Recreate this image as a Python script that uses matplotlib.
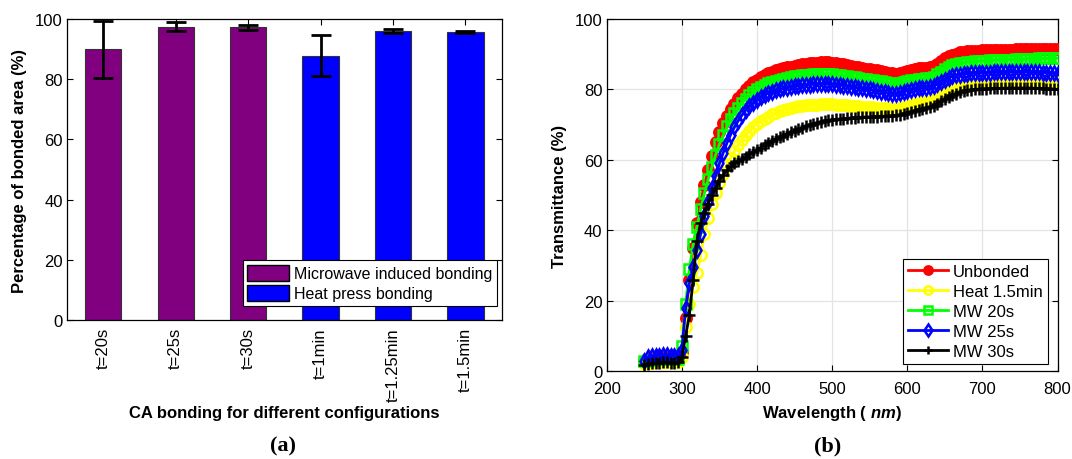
import numpy as np
import matplotlib
matplotlib.use("Agg")
import matplotlib.pyplot as plt
from matplotlib.patches import Patch

plt.rcParams['font.family'] = ['Liberation Sans', 'DejaVu Sans']
plt.rcParams['mathtext.fontset'] = 'custom'
plt.rcParams['mathtext.it'] = 'Liberation Sans:italic:bold'
plt.rcParams['mathtext.rm'] = 'Liberation Sans:bold'

# ---------------- Panel (a) data ----------------
categories = ['t=20s', 't=25s', 't=30s', 't=1min', 't=1.25min', 't=1.5min']
bonded_pct = [90.0, 97.5, 97.2, 87.8, 96.0, 95.7]
bonded_err = [9.5, 1.5, 0.8, 6.8, 0.8, 0.3]
groups = ['mw', 'mw', 'mw', 'hp', 'hp', 'hp']
group_labels = {'mw': 'Microwave induced bonding', 'hp': 'Heat press bonding'}
group_colors = {'mw': '#800080', 'hp': '#0000FF'}

# ---------------- Panel (b) data ----------------
wavelength = list(range(250, 805, 5))

unbonded = [3.0, 3.5, 3.6, 3.8, 3.8, 3.9, 3.9, 3.8, 3.7, 3.6,
            5.5, 15, 26, 35, 42, 48, 53, 57, 61, 65,
            68, 70.5, 72.5, 74.5, 76, 77.5, 78.8, 80, 81, 82,
            82.8, 83.5, 84.1, 84.6, 85.0, 85.4, 85.7, 86.0, 86.3, 86.5,
            86.7, 86.9, 87.1, 87.2, 87.4, 87.5, 87.6, 87.7, 87.7, 87.7,
            87.6, 87.5, 87.3, 87.1, 86.9, 86.7, 86.5, 86.3, 86.1, 85.9,
            85.8, 85.6, 85.4, 85.2, 85.0, 84.8, 84.6, 84.5, 84.7, 85.0,
            85.3, 85.6, 85.8, 86.0, 86.1, 86.2, 86.3, 86.6, 87.3, 88.1,
            88.8, 89.4, 89.9, 90.2, 90.5, 90.7, 90.8, 90.9, 91.0, 91.0,
            91.1, 91.1, 91.2, 91.2, 91.2, 91.3, 91.3, 91.3, 91.3, 91.4,
            91.4, 91.4, 91.4, 91.4, 91.5, 91.5, 91.5, 91.5, 91.5, 91.5,
            91.5]

heat_15min = [2.0, 2.3, 2.4, 2.5, 2.6, 2.6, 2.6, 2.5, 2.5, 2.6,
              4.0, 12.5, 19, 24, 28, 33, 39, 43.5, 47.5, 50.5,
              53.5, 56, 58.5, 60.6, 62.5, 64.2, 65.7, 67, 68.2, 69.3,
              70.2, 71.0, 71.7, 72.3, 72.9, 73.4, 73.8, 74.2, 74.5, 74.8,
              75.0, 75.2, 75.4, 75.5, 75.6, 75.7, 75.7, 75.8, 75.8, 75.8,
              75.8, 75.7, 75.7, 75.6, 75.5, 75.4, 75.3, 75.2, 75.1, 75.0,
              74.9, 74.9, 74.8, 74.7, 74.6, 74.6, 74.5, 74.5, 74.7, 75.0,
              75.3, 75.6, 75.9, 76.1, 76.3, 76.5, 76.7, 77.1, 77.8, 78.5,
              79.1, 79.6, 80.1, 80.5, 80.8, 81.0, 81.2, 81.3, 81.4, 81.5,
              81.6, 81.6, 81.7, 81.7, 81.8, 81.8, 81.8, 81.9, 81.9, 81.9,
              82.0, 82.0, 82.0, 82.0, 82.0, 82.0, 82.0, 82.0, 82.0, 82.0,
              82.0]

mw_20s = [3.0, 3.2, 3.3, 3.4, 3.4, 3.5, 3.5, 3.4, 3.4, 3.5,
          7, 19, 29, 36, 41, 46, 50.5, 54.5, 58, 61.5,
          64.5, 67, 69.5, 71.5, 73.2, 74.8, 76.2, 77.4, 78.4, 79.3,
          80.0, 80.7, 81.2, 81.7, 82.1, 82.5, 82.8, 83.1, 83.3, 83.5,
          83.7, 83.9, 84.0, 84.1, 84.2, 84.3, 84.4, 84.4, 84.4, 84.4,
          84.3, 84.2, 84.1, 83.9, 83.7, 83.6, 83.4, 83.2, 83.1, 82.9,
          82.8, 82.6, 82.4, 82.3, 82.1, 81.9, 81.7, 81.5, 81.7, 82.0,
          82.3, 82.6, 82.8, 83.0, 83.1, 83.2, 83.3, 83.6, 84.3, 85.0,
          85.7, 86.3, 86.8, 87.1, 87.4, 87.6, 87.8, 87.9, 88.0, 88.1,
          88.2, 88.2, 88.3, 88.3, 88.4, 88.4, 88.5, 88.5, 88.5, 88.6,
          88.6, 88.6, 88.7, 88.7, 88.7, 88.8, 88.8, 88.8, 88.8, 88.9,
          88.9]

mw_25s = [3.0, 4.0, 4.2, 4.3, 4.4, 4.5, 4.5, 4.4, 4.3, 4.2,
          6.0, 18, 25, 29.5, 34.5, 39, 44, 48, 52, 55.5,
          59, 62, 64.8, 67.2, 69.3, 71.1, 72.7, 74.1, 75.2, 76.2,
          77.1, 77.8, 78.4, 78.9, 79.3, 79.7, 80.0, 80.3, 80.5, 80.7,
          80.9, 81.0, 81.2, 81.3, 81.4, 81.5, 81.5, 81.6, 81.6, 81.6,
          81.5, 81.4, 81.3, 81.1, 81.0, 80.8, 80.6, 80.4, 80.3, 80.1,
          80.0, 79.8, 79.6, 79.4, 79.2, 79.0, 78.8, 78.6, 78.9, 79.3,
          79.6, 79.9, 80.1, 80.3, 80.4, 80.5, 80.6, 80.9, 81.5, 82.2,
          82.8, 83.3, 83.7, 84.0, 84.2, 84.4, 84.5, 84.6, 84.7, 84.7,
          84.8, 84.8, 84.8, 84.9, 84.9, 84.9, 84.9, 85.0, 85.0, 85.0,
          85.0, 85.0, 85.0, 84.9, 84.9, 84.9, 84.8, 84.8, 84.7, 84.6,
          84.5]

mw_30s = [1.8, 2.0, 2.2, 2.3, 2.4, 2.5, 2.5, 2.4, 2.4, 2.5,
          4.0, 10, 16, 26, 37, 42, 45, 47.5, 50, 52,
          54, 55.7, 57, 58.2, 59.0, 59.7, 60.3, 60.9, 61.6, 62.2,
          62.8, 63.5, 64.2, 64.8, 65.4, 65.9, 66.4, 66.9, 67.4, 67.9,
          68.3, 68.7, 69.1, 69.5, 69.9, 70.2, 70.5, 70.8, 71.0, 71.2,
          71.4, 71.5, 71.6, 71.7, 71.8, 71.9, 72.0, 72.1, 72.1, 72.2,
          72.2, 72.3, 72.3, 72.4, 72.4, 72.5, 72.5, 72.6, 72.8, 73.1,
          73.4, 73.7, 74.0, 74.3, 74.5, 74.8, 75.0, 75.4, 76.0, 76.7,
          77.3, 77.9, 78.4, 78.8, 79.2, 79.5, 79.7, 79.9, 80.0, 80.1,
          80.2, 80.2, 80.3, 80.3, 80.3, 80.3, 80.4, 80.4, 80.4, 80.4,
          80.4, 80.4, 80.4, 80.4, 80.3, 80.3, 80.3, 80.2, 80.2, 80.1,
          80.0]

series_names = ['Unbonded', 'Heat 1.5min', 'MW 20s', 'MW 25s', 'MW 30s']
series_values = [unbonded, heat_15min, mw_20s, mw_25s, mw_30s]
series_colors = ['#FF0000', '#FFFF00', '#00FF00', '#0000FF', '#000000']
series_markers = ['o', 'o', 's', 'd', '+']
series_filled = [True, False, False, False, True]

# ---------------- Figure ----------------
fig = plt.figure(figsize=(10.72, 4.6), dpi=100)
FS = 12

def style_axes(ax, xpad):
    ax.tick_params(direction='in', top=True, right=True, length=4,
                   labelsize=FS, width=0.8)
    ax.tick_params(axis='y', pad=3)
    ax.tick_params(axis='x', pad=xpad)
    for s in ax.spines.values():
        s.set_linewidth(0.9)

# Panel (a)
ax1 = fig.add_axes([0.0625, 0.302, 0.4055, 0.6545])
x = np.arange(1, len(categories) + 1)
colors = [group_colors[g] for g in groups]
ax1.bar(x, bonded_pct, width=0.5, color=colors, edgecolor='#333333',
        linewidth=0.8, zorder=2)
ax1.errorbar(x, bonded_pct, yerr=bonded_err, fmt='none', ecolor='black',
             elinewidth=2, capsize=7, capthick=2, zorder=3)
ax1.set_xlim(0.5, 6.5)
ax1.set_ylim(0, 100)
ax1.set_yticks([0, 20, 40, 60, 80, 100])
ax1.set_xticks(x)
ax1.set_xticklabels(categories, rotation=90)
style_axes(ax1, 5)
ax1.set_ylabel('Percentage of bonded area (%)', fontsize=FS,
               fontweight='bold', labelpad=6)
ax1.set_xlabel('CA bonding for different configurations', fontsize=FS,
               fontweight='bold', labelpad=3)
handles = [Patch(facecolor=group_colors[k], edgecolor='black', linewidth=1,
                 label=group_labels[k]) for k in ['mw', 'hp']]
leg1 = ax1.legend(handles=handles, loc='lower right',
                  bbox_to_anchor=(0.989, 0.046), fontsize=11.5,
                  frameon=True, fancybox=False, edgecolor='black',
                  handlelength=2.6, handleheight=1.1, labelspacing=0.25,
                  handletextpad=0.3, borderpad=0.3, borderaxespad=0.0,
                  framealpha=1)
leg1.get_frame().set_linewidth(0.8)

# Panel (b)
ax2 = fig.add_axes([0.566, 0.191, 0.4205, 0.7655])
for name, vals, c, m, filled in zip(series_names, series_values,
                                    series_colors, series_markers,
                                    series_filled):
    ax2.plot(wavelength, vals, color=c, linewidth=2, marker=m,
             markersize=7.5 if m != '+' else 8,
             markerfacecolor=c if filled else 'none',
             markeredgecolor=c, markeredgewidth=1.8, label=name, zorder=3)
ax2.set_xlim(200, 800)
ax2.set_ylim(0, 100)
ax2.set_xticks([200, 300, 400, 500, 600, 700, 800])
ax2.set_yticks([0, 20, 40, 60, 80, 100])
ax2.grid(True, color='#E3E3E3', linewidth=0.9, zorder=0)
ax2.set_axisbelow(True)
style_axes(ax2, 7)
ax2.set_ylabel('Transmittance (%)', fontsize=FS, fontweight='bold',
               labelpad=6)
ax2.set_xlabel(r'Wavelength ( $nm$)', fontsize=FS, fontweight='bold',
               labelpad=5)
leg2 = ax2.legend(loc='lower right', bbox_to_anchor=(0.978, 0.02),
                  fontsize=FS, frameon=True, markerscale=0.8,
                  fancybox=False, edgecolor='black', handlelength=2.4,
                  labelspacing=0.3, handletextpad=0.3, borderpad=0.3,
                  borderaxespad=0.0, framealpha=1)
leg2.get_frame().set_linewidth(0.8)

fig.text(0.264, 0.03, '(a)', family=['Liberation Serif', 'DejaVu Serif'],
         fontweight='bold', fontsize=16, ha='center', va='center')
fig.text(0.772, 0.03, '(b)', family=['Liberation Serif', 'DejaVu Serif'],
         fontweight='bold', fontsize=16, ha='center', va='center')

fig.savefig('out.png', dpi=100)
